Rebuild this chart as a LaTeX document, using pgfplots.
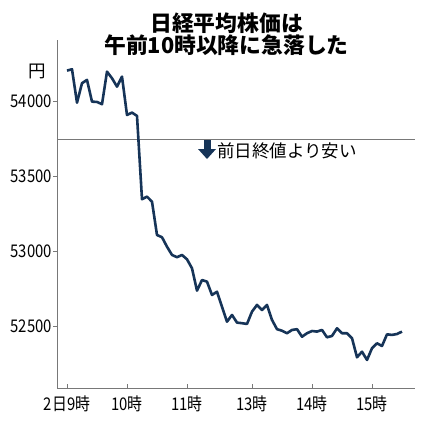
\documentclass[border=0pt]{standalone}
\usepackage{fontspec}
\setmainfont{Noto Sans CJK JP}
\newfontfamily\tickfont{Noto Sans CJK JP}[FakeStretch=0.85]
\usepackage{pgfplots}
\pgfplotsset{compat=1.18}
\definecolor{navy}{RGB}{22,52,88}
\definecolor{axgray}{RGB}{120,120,120}
\pgfplotstableread{
t v
0 54207
5 54216
10 53993
15 54123
20 54145
25 54000
30 53998
35 53983
40 54200
45 54156
50 54100
55 54167
60 53911
65 53927
70 53905
75 53349
80 53367
85 53333
90 53111
95 53096
100 53033
105 52978
110 52963
115 52978
120 52949
125 52889
130 52740
135 52811
140 52800
145 52711
150 52733
155 52633
160 52533
165 52578
170 52527
175 52523
180 52518
185 52600
190 52645
195 52611
200 52645
205 52545
210 52483
215 52473
220 52456
225 52478
230 52483
235 52433
240 52456
245 52471
250 52467
255 52478
260 52429
265 52438
270 52489
275 52456
280 52456
285 52423
290 52296
295 52333
300 52278
305 52356
310 52389
315 52371
320 52449
325 52445
330 52451
335 52467
}\nikkei
\begin{document}
\begin{tikzpicture}[x=1pt,y=1pt]
\useasboundingbox (-57,-33) rectangle (368,388);
\begin{axis}[at={(0,0)}, anchor=south west, scale only axis,
  width=358pt, height=348pt,
  xmin=-10, xmax=348, ymin=52091, ymax=54411,
  axis x line*=bottom, axis y line*=left,
  axis line style={axgray, line width=0.8pt, -},
  xtick={0,60,120,185,245,305},
  xticklabels={2日9時,10時,11時,13時,14時,15時},
  ytick={52500,53000,53500,54000},
  xtick align=inside, ytick align=outside,
  major tick length=4pt,
  tick style={axgray, line width=0.8pt},
  ticklabel style={font=\tickfont\fontsize{17.5}{17.5}\selectfont},
  /pgf/number format/assume math mode=true,
  /pgf/number format/1000 sep={},
  scaled y ticks=false,
  yticklabel style={inner sep=1pt},
  xticklabel style={inner sep=2pt, yshift=-6pt},
]
\addplot[axgray, line width=0.8pt] coordinates {(-10,53745) (348,53745)};
\addplot[navy, line width=2.6pt, line join=round] table[x=t,y=v] {\nikkei};
\end{axis}
\node[font=\bfseries\fontsize{21.8}{22}\selectfont] at (169.5,364.5) {日経平均株価は};
\node[font=\bfseries\fontsize{21.8}{22}\selectfont] at (169.5,343) {午前10時以降に急落した};
\node[font=\fontsize{17.5}{17.5}\selectfont] at (-20,316.5) {円};
\draw[navy, line width=7pt] (150,248) -- (150,238);
\fill[navy] (141,239) -- (159,239) -- (150,229) -- cycle;
\node[anchor=west, inner sep=0pt, font=\fontsize{17.5}{17.5}\selectfont] at (160,237) {前日終値より安い};
\end{tikzpicture}
\end{document}
